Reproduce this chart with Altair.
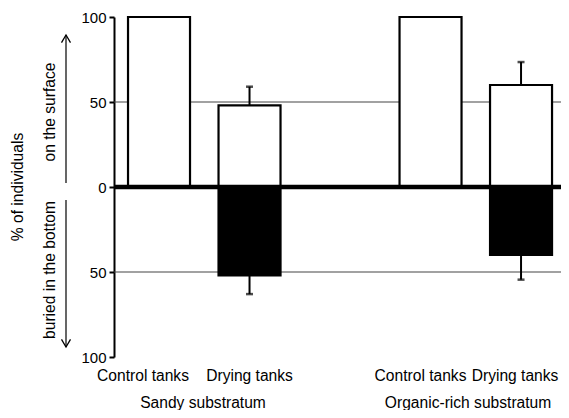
import altair as alt
import pandas as pd

# ---- data ----
groups = ["Sandy substratum", "Organic-rich substratum"]
treatments = ["Control tanks", "Drying tanks"]
surface = [100, 48, 100, 60]        # % on the surface
surface_err = [0, 11, 0, 13.5]
buried = [0, 52, 0, 40]             # % buried in the bottom
buried_err = [0, 11, 0, 14.5]
y_ticks = [-100, -50, 0, 50, 100]
grid_values = [50, -50]

keys = [f"{g}|{t}" for g in groups for t in treatments]
domain = keys[:2] + ["spacer"] + keys[2:]

df = pd.DataFrame({
    "key": keys,
    "surface": surface,
    "s_hi": [v + e for v, e in zip(surface, surface_err)],
    "s_err": surface_err,
    "buried": [-v for v in buried],
    "b_lo": [-(v + e) for v, e in zip(buried, buried_err)],
    "b_err": buried_err,
})

FONT = "Liberation Sans"
FS = 15.6
xscale = alt.Scale(domain=domain, paddingInner=0.315, paddingOuter=0.127, align=0.61)
yscale = alt.Scale(domain=[-100, 100], nice=False, zero=False)

x_axis = alt.Axis(
    title=None, domain=False, ticks=False, grid=False,
    labelExpr="indexof(datum.value, '|') >= 0 ? split(datum.value, '|')[1] : ''",
    labelFont=FONT, labelFontSize=FS, labelColor="black", labelPadding=11,
    labelAngle=0,
    labelOffset={
        "condition": [
            {"test": f"datum.value === '{keys[0]}'", "value": -16},
            {"test": f"datum.value === '{keys[2]}'", "value": -10},
            {"test": f"datum.value === '{keys[3]}'", "value": -6},
        ],
        "value": 0,
    },
)
y_axis = alt.Axis(
    title=None, values=y_ticks, labelExpr="abs(datum.value)", grid=False,
    domainColor="black", domainWidth=2, tickColor="black", tickWidth=2, tickSize=5,
    labelFont=FONT, labelFontSize=15, labelColor="black", labelPadding=3,
)

X = lambda f, **kw: alt.X(f, scale=xscale, axis=x_axis, sort=domain, **kw)
Y = lambda f: alt.Y(f, scale=yscale, axis=y_axis)

base = alt.Chart(df)

grid = alt.Chart(pd.DataFrame({"g": grid_values})).mark_rule(color="#444444", strokeWidth=1.1).encode(
    y=Y("g:Q")
)

surf_bars = base.mark_bar(fill="white", stroke="black", strokeWidth=2.2).encode(
    x=X("key:N"), y=Y("surface:Q"), y2=alt.datum(0),
)

bur_bars = base.transform_filter("datum.buried < 0").mark_bar(fill="black", stroke="black", strokeWidth=2.2).encode(
    x=X("key:N"), y=Y("buried:Q"), y2=alt.datum(0),
)

s_err_rule = base.transform_filter("datum.s_err > 0").mark_rule(color="black", strokeWidth=2).encode(
    x=X("key:N"), y=Y("surface:Q"), y2="s_hi:Q",
)
s_err_cap = base.transform_filter("datum.s_err > 0").mark_tick(color="black", orient="horizontal", size=7, thickness=2.5).encode(
    x=X("key:N"), y=Y("s_hi:Q"),
)
b_err_rule = base.transform_filter("datum.b_err > 0").mark_rule(color="black", strokeWidth=2).encode(
    x=X("key:N"), y=Y("buried:Q"), y2="b_lo:Q",
)
b_err_cap = base.transform_filter("datum.b_err > 0").mark_tick(color="black", orient="horizontal", size=7, thickness=2.5).encode(
    x=X("key:N"), y=Y("b_lo:Q"),
)

zero_line = alt.Chart(pd.DataFrame({"z": [0]})).mark_rule(color="black", strokeWidth=4.5).encode(
    y=Y("z:Q")
)

# group labels under the tank labels
glab = pd.DataFrame({"group": groups, "key": [f"{g}|Drying tanks" for g in groups]})
g1 = alt.Chart(glab).transform_filter(alt.datum.group == groups[0]).mark_text(
    font=FONT, fontSize=FS, color="black", baseline="middle", align="center", dx=-15.5
).encode(x=X("key:N", bandPosition=0), y=alt.value(386), text="group:N")
g2 = alt.Chart(glab).transform_filter(alt.datum.group == groups[1]).mark_text(
    font=FONT, fontSize=FS, color="black", baseline="middle", align="center", dx=-22
).encode(x=X("key:N", bandPosition=0), y=alt.value(386), text="group:N")

# left annotations: axis title, side labels and arrows
def txt(s, x, y):
    return alt.Chart(pd.DataFrame({"t": [s]})).mark_text(
        font=FONT, fontSize=FS, color="black", angle=270, align="center", baseline="middle"
    ).encode(x=alt.value(x), y=alt.value(y), text="t:N")

title_txt = txt("% of individuals", -96, 170)
surf_txt = txt("on the surface", -64, 95)
bur_txt = txt("buried in the bottom", -64, 253)

one = pd.DataFrame({"a": [1]})
arrow_up = alt.Chart(one).mark_rule(color="black", strokeWidth=1.2).encode(
    x=alt.value(-48), y=alt.value(18), y2=alt.value(166))
arrow_dn = alt.Chart(one).mark_rule(color="black", strokeWidth=1.2).encode(
    x=alt.value(-48), y=alt.value(183), y2=alt.value(330))
head_up = alt.Chart(one).mark_point(
    shape="M-1,1.7L0,0L1,1.7", filled=False, stroke="black", strokeWidth=1.3, size=81, opacity=1
).encode(x=alt.value(-48), y=alt.value(18))
head_dn = alt.Chart(one).mark_point(
    shape="M-1,-1.7L0,0L1,-1.7", filled=False, stroke="black", strokeWidth=1.3, size=81, opacity=1
).encode(x=alt.value(-48), y=alt.value(330))

chart = alt.layer(
    grid, surf_bars, bur_bars, s_err_rule, s_err_cap, b_err_rule, b_err_cap, zero_line,
    g1, g2, title_txt, surf_txt, bur_txt, arrow_up, arrow_dn, head_up, head_dn,
).properties(
    width=447, height=340,
    autosize=alt.AutoSizeParams(type="none"),
    padding={"left": 106, "top": 9, "right": 0, "bottom": 53},
).configure(background="white").configure_view(stroke=None)

chart.save("out.html", embed_options={"renderer": "svg", "actions": False})
